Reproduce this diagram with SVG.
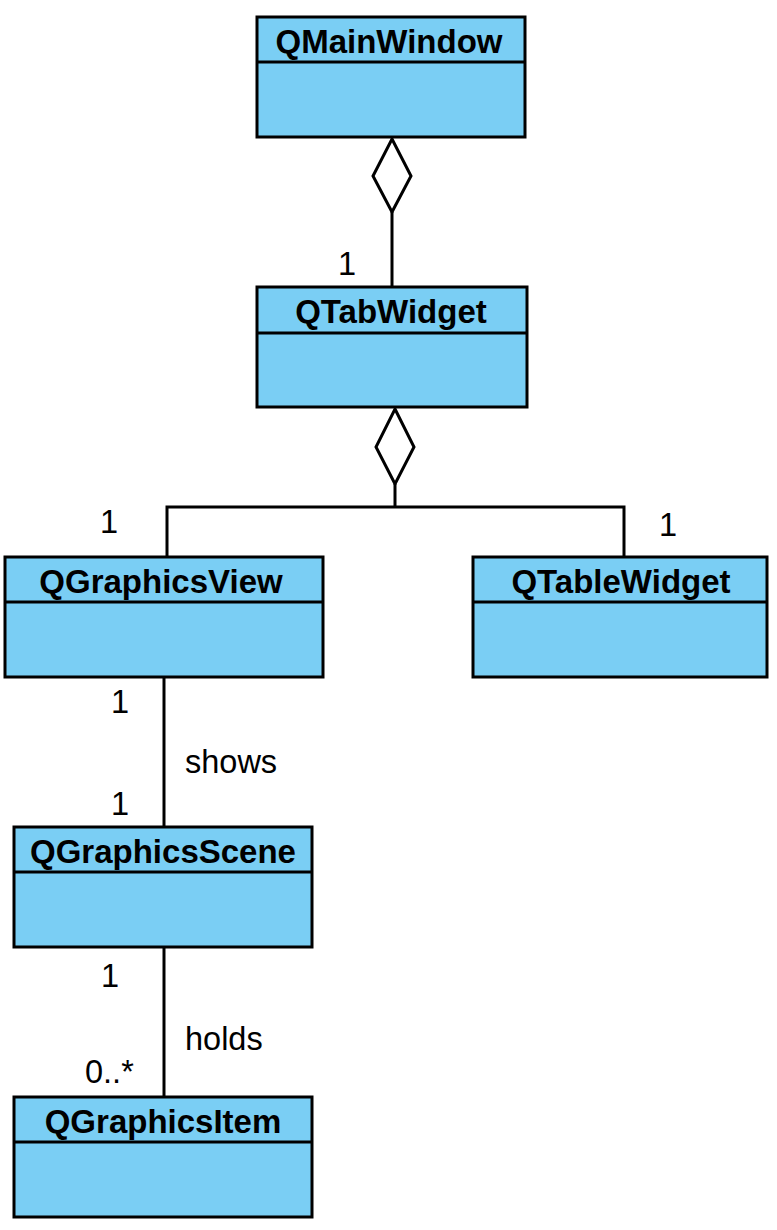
<svg xmlns="http://www.w3.org/2000/svg" width="777" height="1230" viewBox="0 0 777 1230">
<style>
.box{fill:#7ACEF4;stroke:#000;stroke-width:3}
.div{stroke:#000;stroke-width:3}
.title{font-family:"Liberation Sans",Arial,sans-serif;font-weight:bold;font-size:33px;text-anchor:middle;fill:#000}
.lbl{font-family:"Liberation Sans",Arial,sans-serif;font-size:32.5px;fill:#000}
.ln{fill:none;stroke:#000;stroke-width:3}
.dia{fill:#fff;stroke:#000;stroke-width:3;stroke-linejoin:miter}
</style>
<rect width="777" height="1230" fill="#fff"/>
<g id="QMainWindow">
<rect class="box" x="257" y="17" width="268" height="120"/>
<line class="div" x1="257" y1="62" x2="525" y2="62"/>
<text class="title" x="389" y="53">QMainWindow</text>
</g>
<g id="QTabWidget">
<rect class="box" x="257" y="287" width="270" height="120"/>
<line class="div" x1="257" y1="333" x2="527" y2="333"/>
<text class="title" x="391" y="323">QTabWidget</text>
</g>
<g id="QGraphicsView">
<rect class="box" x="5" y="557" width="318" height="120"/>
<line class="div" x1="5" y1="602" x2="323" y2="602"/>
<text class="title" x="161" y="593">QGraphicsView</text>
</g>
<g id="QTableWidget">
<rect class="box" x="473" y="557" width="294" height="120"/>
<line class="div" x1="473" y1="602" x2="767" y2="602"/>
<text class="title" x="621" y="593">QTableWidget</text>
</g>
<g id="QGraphicsScene">
<rect class="box" x="14" y="827" width="298" height="120"/>
<line class="div" x1="14" y1="872" x2="312" y2="872"/>
<text class="title" x="163" y="863">QGraphicsScene</text>
</g>
<g id="QGraphicsItem">
<rect class="box" x="14" y="1097" width="298" height="120"/>
<line class="div" x1="14" y1="1142" x2="312" y2="1142"/>
<text class="title" x="163" y="1133">QGraphicsItem</text>
</g>
<g id="connectors">
<polyline class="ln" points="392,212 392,287"/>
<polygon class="dia" points="392,139 411,176 392,212 373,176"/>
<polyline class="ln" points="395,484 395,507"/>
<polyline class="ln" points="167,557 167,507 624,507 624,557"/>
<polygon class="dia" points="395,409 414,447 395,484 376,447"/>
<line class="ln" x1="164" y1="677" x2="164" y2="827"/>
<line class="ln" x1="164" y1="947" x2="164" y2="1097"/>
</g>
<g id="labels">
<text class="lbl" x="338" y="275">1</text>
<text class="lbl" x="100" y="533">1</text>
<text class="lbl" x="659" y="536">1</text>
<text class="lbl" x="111" y="713">1</text>
<text class="lbl" x="185" y="773">shows</text>
<text class="lbl" x="111" y="815">1</text>
<text class="lbl" x="101" y="987">1</text>
<text class="lbl" x="185" y="1050">holds</text>
<text class="lbl" x="85" y="1083">0..*</text>
</g>
</svg>
